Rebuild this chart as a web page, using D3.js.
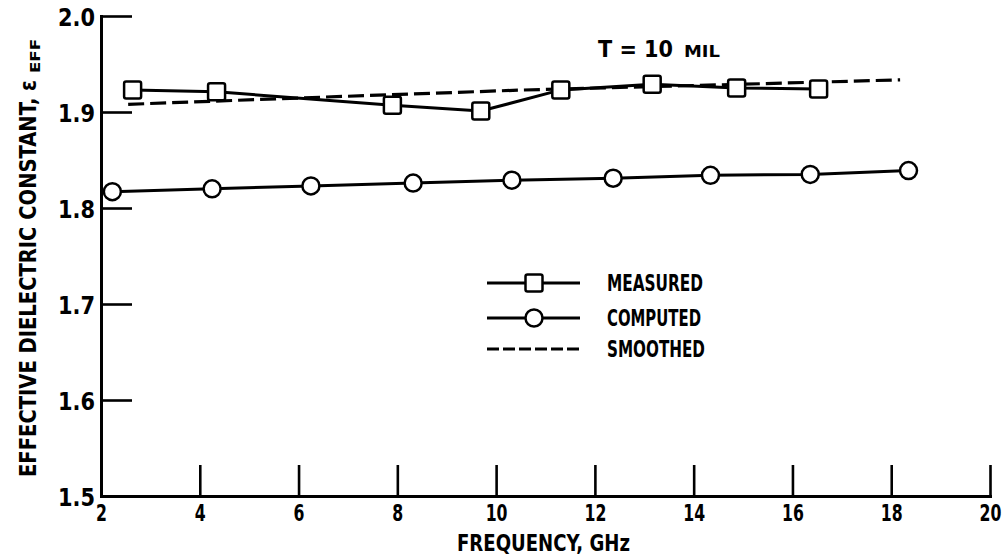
<!DOCTYPE html>
<html><head><meta charset="utf-8">
<script src="https://cdn.jsdelivr.net/npm/d3@7"></script>
<style>
body{margin:0;background:#fff;}
svg{display:block;background:#fff;}
text{font-family:"DejaVu Sans Condensed","DejaVu Sans",sans-serif;font-weight:bold;fill:#000;}
</style></head><body>
<svg id="c" width="1005" height="558"></svg>
<script>
// ---- data ----
const xTicks = [2,4,6,8,10,12,14,16,18,20];
const yTicks = [1.5,1.6,1.7,1.8,1.9,2.0];
const measuredFreq = [2.64,4.34,7.90,9.69,11.31,13.16,14.87,16.53];
const measuredEps  = [1.923,1.921,1.907,1.901,1.923,1.929,1.925,1.924];
const computedFreq = [2.23,4.25,6.25,8.32,10.32,12.37,14.34,16.36,18.35];
const computedEps  = [1.817,1.820,1.823,1.826,1.829,1.831,1.834,1.835,1.839];
const smoothedFreq = [2.55,6.5,10.48,14.53,18.18];
const smoothedEps  = [1.908,1.9155,1.9228,1.9283,1.9335];
const legendLabels = ["MEASURED","COMPUTED","SMOOTHED"];
const xTitle = "FREQUENCY, GHz";
const yTitle = "EFFECTIVE DIELECTRIC CONSTANT, \u03B5";
const yTitleSub = "EFF";
const note = "T = 10";
const noteSmall = "MIL";

const svg = d3.select("#c");
const x = d3.scaleLinear().domain([2,20]).range([101,990]);
const y = d3.scaleLinear().domain([1.5,2.0]).range([496,16]);

const zip = (a,b)=>a.map((v,i)=>[v,b[i]]);
const measured = zip(measuredFreq, measuredEps);
const computed = zip(computedFreq, computedEps);
const smoothed = zip(smoothedFreq, smoothedEps);
const fit = (sel,w)=>sel.attr("textLength",w).attr("lengthAdjust","spacingAndGlyphs");

// axes
const gx = svg.append("g").attr("transform",`translate(0,${y(1.5)})`)
  .call(d3.axisBottom(x).tickValues(xTicks).tickSizeInner(-31).tickSizeOuter(0).tickPadding(9).tickFormat(d3.format("d")));
const gy = svg.append("g").attr("transform",`translate(${x(2)},0)`)
  .call(d3.axisLeft(y).tickValues(yTicks).tickSizeInner(-31).tickSizeOuter(0).tickPadding(6).tickFormat(d3.format(".1f")));
[gx,gy].forEach(g=>{
  g.select(".domain").attr("stroke","#000").attr("stroke-width",3).attr("stroke-linecap","square");
  g.selectAll(".tick line").attr("stroke","#000").attr("stroke-width",2.6);
  g.selectAll(".tick text").attr("font-family",null).attr("fill","#000");
});
gx.selectAll(".tick").filter(d=>d===2).select("line").remove();
gy.selectAll(".tick").filter(d=>d===1.5).select("line").remove();
gx.selectAll(".tick text").attr("font-size",23).attr("transform","scale(0.76,1)");
gy.selectAll(".tick text").attr("font-size",25).attr("dy","0.36em").call(fit,37);

// lines
const line = d3.line().x(d=>x(d[0])).y(d=>y(d[1]));
svg.append("path").datum(smoothed).attr("d",line).attr("fill","none")
  .attr("stroke","#000").attr("stroke-width",3.2).attr("stroke-dasharray","16,6");
svg.append("path").datum(measured).attr("d",line).attr("fill","none")
  .attr("stroke","#000").attr("stroke-width",3);
svg.append("path").datum(computed).attr("d",line).attr("fill","none")
  .attr("stroke","#000").attr("stroke-width",3);

// markers
const sq = 17, cr = 8.5;
svg.append("g").selectAll("rect").data(measured).join("rect")
  .attr("x",d=>x(d[0])-sq/2).attr("y",d=>y(d[1])-sq/2).attr("width",sq).attr("height",sq)
  .attr("rx",2).attr("fill","#fff").attr("stroke","#000").attr("stroke-width",2.5);
svg.append("g").selectAll("circle").data(computed).join("circle")
  .attr("cx",d=>x(d[0])).attr("cy",d=>y(d[1])).attr("r",cr)
  .attr("fill","#fff").attr("stroke","#000").attr("stroke-width",2.5);

// legend
const lg = svg.append("g");
const ly = [283,318,349];
const lw = [96,94,98];
const lx0 = 487, lx1 = 580, lxm = 534;
lg.append("line").attr("x1",lx0).attr("x2",lx1).attr("y1",ly[0]).attr("y2",ly[0]).attr("stroke","#000").attr("stroke-width",3);
lg.append("rect").attr("x",lxm-sq/2).attr("y",ly[0]-sq/2).attr("width",sq).attr("height",sq).attr("rx",2)
  .attr("fill","#fff").attr("stroke","#000").attr("stroke-width",2.5);
lg.append("line").attr("x1",lx0).attr("x2",lx1).attr("y1",ly[1]).attr("y2",ly[1]).attr("stroke","#000").attr("stroke-width",3);
lg.append("circle").attr("cx",lxm).attr("cy",ly[1]).attr("r",cr)
  .attr("fill","#fff").attr("stroke","#000").attr("stroke-width",2.5);
lg.append("line").attr("x1",lx0).attr("x2",lx1).attr("y1",ly[2]).attr("y2",ly[2]).attr("stroke","#000").attr("stroke-width",3.2).attr("stroke-dasharray","12,4");
lg.selectAll("text").data(legendLabels).join("text")
  .attr("x",607).attr("y",(d,i)=>ly[i]).attr("dy","0.36em").attr("font-size",23).text(d=>d)
  .each(function(d,i){ fit(d3.select(this), lw[i]); });

// titles
svg.append("text").attr("x",457).attr("y",551).attr("font-size",23).text(xTitle).call(fit,173);
svg.append("text").attr("transform","translate(36,477) rotate(-90)").attr("font-size",23)
  .text(yTitle).call(fit,397);
svg.append("text").attr("transform","translate(40,73) rotate(-90)").attr("font-size",14)
  .text(yTitleSub).call(fit,34);

svg.append("text").attr("x",598).attr("y",57).attr("font-size",23).text(note).call(fit,75);
svg.append("text").attr("x",684).attr("y",57).attr("font-size",16).text(noteSmall).call(fit,36);
</script>
</body></html>
